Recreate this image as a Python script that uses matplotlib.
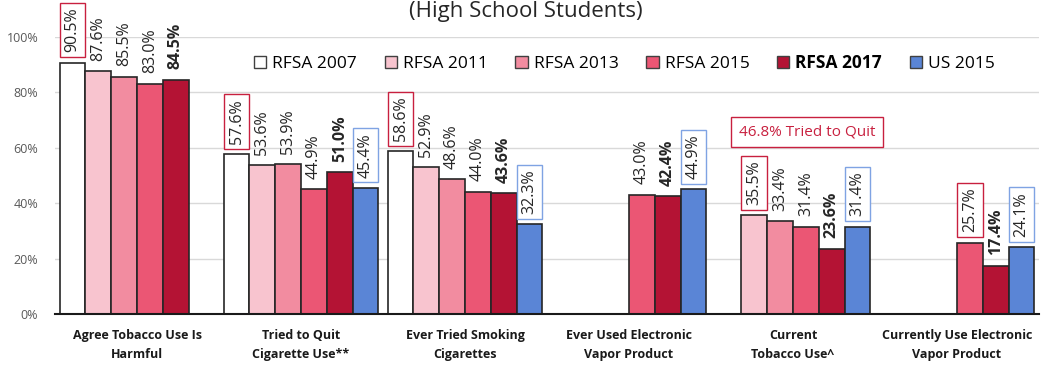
import numpy as np
import matplotlib.pyplot as plt
from matplotlib.patches import Patch

plt.rcParams['font.family'] = ['Open Sans', 'DejaVu Sans']

categories = ['Agree Tobacco Use Is\nHarmful', 'Tried to Quit\nCigarette Use**',
              'Ever Tried Smoking\nCigarettes', 'Ever Used Electronic\nVapor Product',
              'Current\nTobacco Use^', 'Currently Use Electronic\nVapor Product']
series = ['RFSA 2007', 'RFSA 2011', 'RFSA 2013', 'RFSA 2015', 'RFSA 2017', 'US 2015']
nan = np.nan
rfsa_2007 = [90.5, 57.6, 58.6, nan, nan, nan]
rfsa_2011 = [87.6, 53.6, 52.9, nan, 35.5, nan]
rfsa_2013 = [85.5, 53.9, 48.6, nan, 33.4, nan]
rfsa_2015 = [83.0, 44.9, 44.0, 43.0, 31.4, 25.7]
rfsa_2017 = [84.5, 51.0, 43.6, 42.4, 23.6, 17.4]
us_2015 = [nan, 45.4, 32.3, 44.9, 31.4, 24.1]
# which series gets the red "baseline" box in each category (None = no box)
red_boxed = [0, 0, 0, None, 1, 3]
quit_note = '46.8% Tried to Quit'

colors = ['#FFFFFF', '#F8C4CF', '#F28CA0', '#EB5674', '#B41334', '#5A85D6']
red_box = '#C8203F'
blue_box = '#7FA3E3'

data = np.array([rfsa_2007, rfsa_2011, rfsa_2013, rfsa_2015, rfsa_2017, us_2015])

fig = plt.figure(figsize=(10.42, 3.67), dpi=100)
ax = fig.add_axes([0.0528, 0.1444, 0.9443, 0.7561])

x = np.arange(len(categories))
w = 25.8 / 164

for j in range(len(series)):
    xs = x + (j - 2.5) * w
    vals = data[j]
    ok = ~np.isnan(vals)
    ax.bar(xs[ok], vals[ok], width=w, color=colors[j], edgecolor='#262626',
           linewidth=1.2, zorder=3)

# value labels: earliest value in a red box, US values in a blue box
for i in range(len(categories)):
    for j in range(len(series)):
        v = data[j][i]
        if np.isnan(v):
            continue
        bbox = None
        if j == 5:
            bbox = dict(boxstyle='square,pad=0.3', fc='white', ec=blue_box, lw=1)
        elif j == red_boxed[i]:
            bbox = dict(boxstyle='square,pad=0.3', fc='white', ec=red_box, lw=1)
        ax.annotate('%.1f%%' % v, xy=(x[i] + (j - 2.5) * w, v), xytext=(0, 7.5),
                    textcoords='offset points', rotation=90, ha='center', va='bottom',
                    fontsize=11.5, color='#262626',
                    fontweight='bold' if j == 4 else 'normal',
                    bbox=bbox, annotation_clip=False, zorder=4)

ax.text(4.085, 65.6, quit_note, ha='center', va='center', fontsize=11,
        color=red_box, bbox=dict(boxstyle='square,pad=0.5', fc='white', ec=red_box, lw=1),
        zorder=4)

ax.set_xlim(-0.5, len(categories) - 0.5)
ax.set_ylim(0, 100)
ax.set_yticks(np.arange(0, 101, 20))
ax.set_yticklabels(['%d%%' % t for t in range(0, 101, 20)], fontsize=9, color='#595959')
ax.set_xticks(x)
ax.set_xticklabels(categories, fontsize=9, fontweight='bold', color='#1a1a1a',
                   linespacing=1.6)
ax.tick_params(length=0, pad=11)
ax.tick_params(axis='y', pad=12)
ax.grid(axis='y', color='#D9D9D9', lw=1, zorder=0)
for s in ['top', 'right', 'left']:
    ax.spines[s].set_visible(False)
ax.spines['bottom'].set_color('#1a1a1a')
ax.spines['bottom'].set_linewidth(1.5)
ax.spines['bottom'].set_zorder(5)

handles = [Patch(facecolor=c, edgecolor='#404040', lw=1) for c in colors]
leg = ax.legend(handles, series, loc='center left', bbox_to_anchor=(0.195, 0.905),
                ncol=6, frameon=False, fontsize=12.5, handlelength=0.7, handleheight=0.7,
                handletextpad=0.35, columnspacing=1.6, borderaxespad=0)
leg.get_texts()[4].set_fontweight('bold')

fig.text(0.505, 0.955, '(High School Students)', ha='center', va='baseline',
         fontsize=16, color='#262626')

fig.savefig('out.png', dpi=100)
